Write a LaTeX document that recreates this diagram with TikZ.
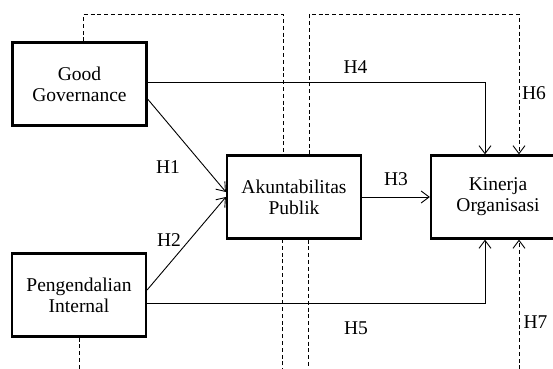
\documentclass[tikz,border=0pt]{standalone}
\usepackage{fontspec}
\setmainfont{Liberation Serif}
\usetikzlibrary{arrows.meta,calc}

\begin{document}
\begin{tikzpicture}[x=0.5pt,y=-0.5pt,
  var/.style={draw,line width=1.1pt,minimum width=67pt,minimum height=41.5pt,
    align=center,inner sep=0pt,font=\fontsize{9.75}{10.6}\selectfont},
  arr/.style={line width=0.45pt,-{Straight Barb[length=4pt,width=6pt]}},
  med/.style={line width=0.45pt,dash pattern=on 2pt off 1.4pt},
  hyp/.style={inner sep=0pt,font=\fontsize{9.75}{10.6}\selectfont}]
  \clip (0,0) rectangle (553,369); % batas gambar
  \node[var] (gg) at (79.5,84) {Good\\Governance};
  \node[var] (pi) at (79,295) {Pengendalian\\Internal};
  \node[var] (akp) at (294,197) {Akuntabilitas\\Publik};
  \node[var] (kin) at (498,197) {Kinerja\\Organisasi};
  % jalur langsung
  \draw[arr] ($(gg.east)+(0,15)$) -- ($(akp.west)+(0,-5)$);
  \draw[arr] ($(pi.east)+(0,-5)$) -- (akp.west);
  \draw[arr] (akp.east) -- (kin.west);
  \draw[arr] ($(gg.east)+(0,-2)$) -| ($(kin.north)+(-13,0)$);
  \draw[arr] ($(pi.east)+(0,8)$) -| ($(kin.south)+(-13,0)$);
  % jalur mediasi (putus-putus)
  \draw[med] ($(gg.north)+(4,0)$) -- ++(0,-27) -| ($(akp.north)+(-11,0)$);
  \draw[med,arr] ($(akp.north)+(15,0)$) -- ++(0,-140) -| ($(kin.north)+(21,0)$);
  \draw[med] (pi.south) -- ++(0,45) -| ($(akp.south)+(-12,0)$);
  \draw[med,arr] ($(akp.south)+(14,0)$) -- ++(0,143) -| ($(kin.south)+(21,0)$);
  % hipotesis
  \node[hyp] (h1) at (168,167) {H1};
  \node[hyp] (h2) at (169,240) {H2};
  \node[hyp] (h3) at (396,179) {H3};
  \node[hyp] (h4) at (355.5,67) {H4};
  \node[hyp] (h5) at (356,328.5) {H5};
  \node[hyp] (h6) at (534,93.5) {H6};
  \node[hyp] (h7) at (535.5,322.5) {H7};
\end{tikzpicture}
\end{document}
